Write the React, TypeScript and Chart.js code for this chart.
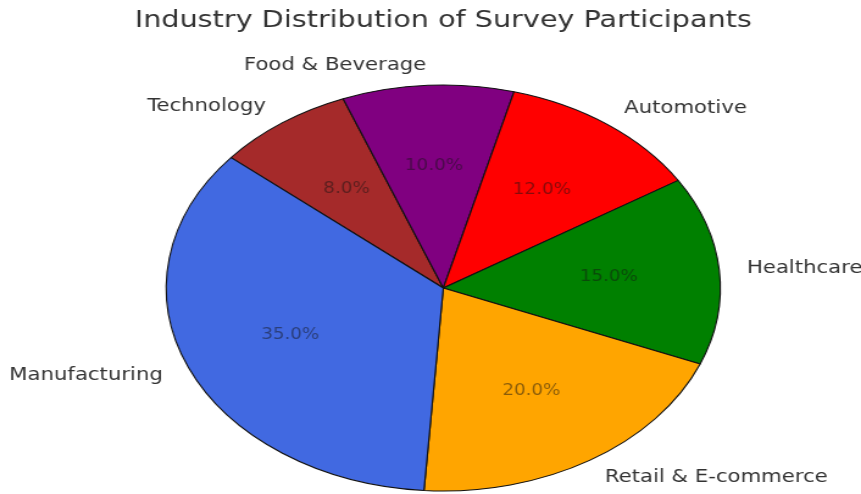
import React, { useEffect, useRef } from "react";
import { Chart, registerables } from "chart.js";

Chart.register(...registerables);

const categories = [
  "Manufacturing",
  "Retail & E-commerce",
  "Healthcare",
  "Automotive",
  "Food & Beverage",
  "Technology",
];
const shares = [35, 20, 15, 12, 10, 8];
const sliceColors = ["#4169E1", "#FFA500", "#008000", "#FF0000", "#800080", "#A52A2A"];
const chartTitle = "Industry Distribution of Survey Participants";

// Canvas buffer is stretched horizontally by CSS (text looks wide in the reference)
const BUF_W = 706;
const BUF_H = 494;
const CSS_W = 861;
const CSS_H = 494;
// Extra horizontal stretch of the pie itself (ellipse)
const PIE_STRETCH = 1.119;

const ellipsePlugin = {
  id: "ellipsePie",
  beforeDatasetsDraw(chart: any) {
    const meta = chart.getDatasetMeta(0);
    const el = meta.data[0];
    if (!el) return;
    const { x, y } = el.getProps(["x", "y"], true);
    const ctx = chart.ctx;
    ctx.save();
    ctx.translate(x, y);
    ctx.scale(PIE_STRETCH, 1);
    ctx.translate(-x, -y);
  },
  afterDatasetsDraw(chart: any) {
    const ctx = chart.ctx;
    ctx.restore();
    const meta = chart.getDatasetMeta(0);
    const data = chart.data.datasets[0].data as number[];
    const labels = chart.data.labels as string[];
    const total = data.reduce((a, b) => a + b, 0);
    ctx.save();
    meta.data.forEach((el: any, i: number) => {
      const p = el.getProps(["x", "y", "startAngle", "endAngle", "outerRadius"], true);
      const mid = (p.startAngle + p.endAngle) / 2;
      const c = Math.cos(mid);
      const s = Math.sin(mid);
      // outer category label
      const lx = p.x + 1.1 * p.outerRadius * c * PIE_STRETCH;
      const ly = p.y + 1.1 * p.outerRadius * s;
      ctx.font = '17.4px "DejaVu Sans"';
      ctx.fillStyle = "#333333";
      ctx.textBaseline = "middle";
      ctx.textAlign = c > 0 ? "left" : "right";
      ctx.fillText(labels[i], lx, ly);
      // percentage label
      const px = p.x + 0.6 * p.outerRadius * c * PIE_STRETCH;
      const py = p.y + 0.6 * p.outerRadius * s;
      ctx.font = '15px "DejaVu Sans"';
      ctx.fillStyle = "rgba(20,20,20,0.5)";
      ctx.textAlign = "center";
      ctx.fillText(((data[i] / total) * 100).toFixed(1) + "%", px, py);
    });
    ctx.restore();
  },
};

export default function App() {
  const canvasRef = useRef<HTMLCanvasElement | null>(null);

  useEffect(() => {
    if (!canvasRef.current) return;
    const order = categories.map((_, i) => i).reverse();
    const chart = new Chart(canvasRef.current, {
      type: "pie",
      data: {
        labels: order.map((i) => categories[i]),
        datasets: [
          {
            data: order.map((i) => shares[i]),
            backgroundColor: order.map((i) => sliceColors[i]),
            borderColor: "#111111",
            borderWidth: 1,
            hoverOffset: 0,
          },
        ],
      },
      options: {
        responsive: false,
        devicePixelRatio: 1,
        animation: false,
        events: [],
        rotation: -50,
        layout: { padding: { left: 21, right: 0, top: 0, bottom: 2.5 } },
        plugins: {
          legend: { display: false },
          tooltip: { enabled: false },
          title: {
            display: true,
            text: chartTitle,
            color: "#333333",
            font: { family: "DejaVu Sans", size: 23.5, weight: "normal", lineHeight: 1.2 },
            padding: { top: 6.8, bottom: 49.5 },
          },
        },
      },
      plugins: [ellipsePlugin],
    });
    return () => chart.destroy();
  }, []);

  return (
    <div style={{ position: "fixed", left: 0, top: 0, width: CSS_W, height: CSS_H, background: "#fff" }}>
      <canvas
        ref={canvasRef}
        width={BUF_W}
        height={BUF_H}
        style={{ display: "block", width: CSS_W + "px", height: CSS_H + "px" }}
      />
    </div>
  );
}
